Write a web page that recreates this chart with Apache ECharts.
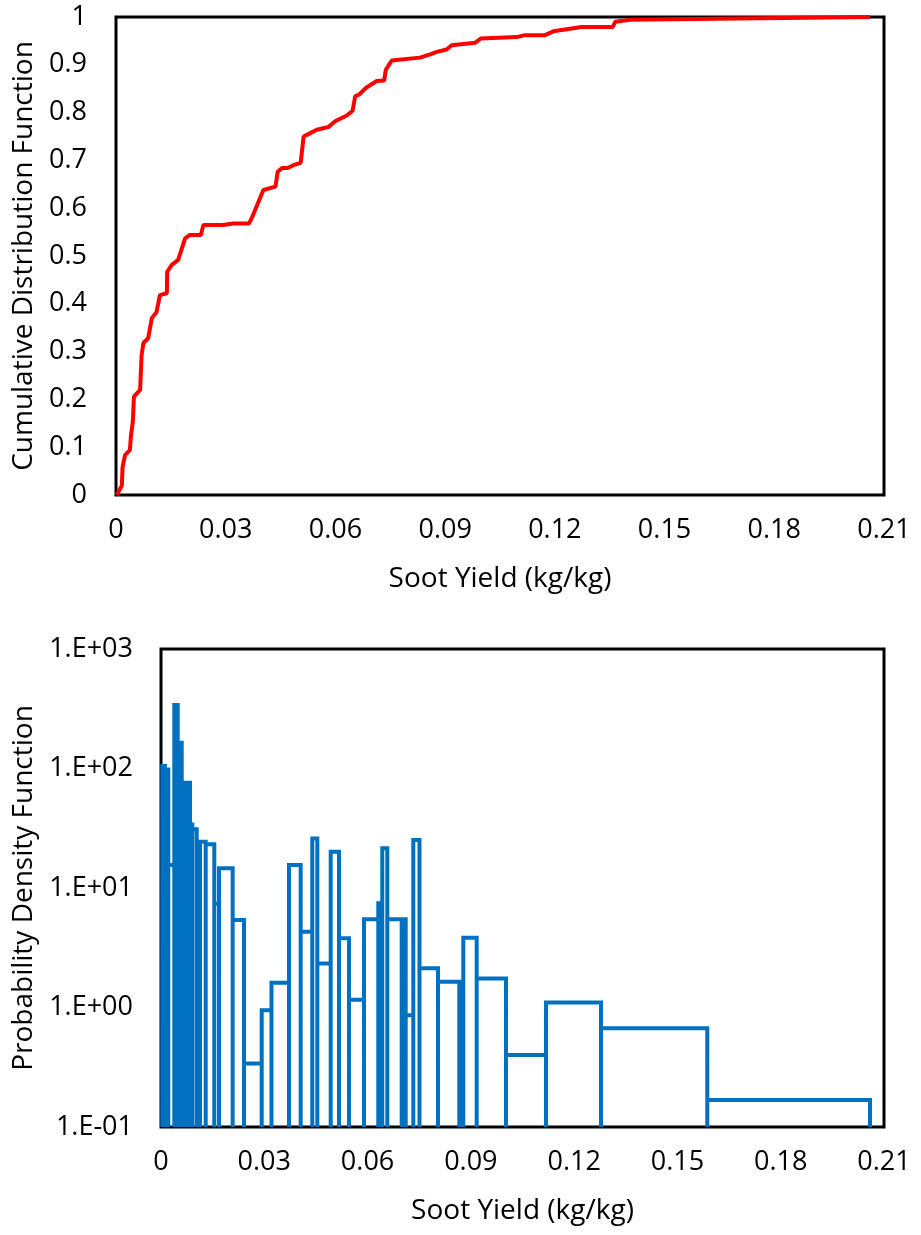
<!DOCTYPE html>
<html>
<head>
<meta charset="utf-8">
<script src="https://cdn.jsdelivr.net/npm/echarts@6/dist/echarts.min.js"></script>
<style>
html,body{margin:0;padding:0;background:#fff;}
#chart{width:921px;height:1235px;}
</style>
</head>
<body>
<div id="chart"></div>
<script>
// ---- CDF data (top panel) ----
const cdfX = [0.0002,0.0016,0.0018,0.0025,0.0038,0.0041,0.0046,0.0049,0.0066,0.0070,0.0075,0.0088,0.0098,0.0111,0.0120,0.0139,0.0140,0.0152,0.0170,0.0189,0.0202,0.0232,0.0239,0.0293,0.0320,0.0364,0.0371,0.0403,0.0436,0.0442,0.0454,0.0470,0.0485,0.0505,0.0513,0.0526,0.0549,0.0581,0.0599,0.0631,0.0647,0.0654,0.0665,0.0684,0.0713,0.0733,0.0738,0.0754,0.0831,0.0859,0.0877,0.0904,0.0918,0.0982,0.0997,0.1096,0.1118,0.1173,0.1196,0.1273,0.1358,0.1365,0.1405,0.2062];
const cdfY = [0,0.02,0.059,0.084,0.094,0.125,0.153,0.206,0.22,0.293,0.318,0.328,0.37,0.383,0.418,0.422,0.467,0.481,0.492,0.537,0.544,0.544,0.565,0.565,0.568,0.568,0.579,0.638,0.645,0.676,0.684,0.684,0.690,0.695,0.750,0.755,0.764,0.770,0.782,0.794,0.804,0.834,0.838,0.852,0.866,0.867,0.890,0.909,0.915,0.922,0.927,0.932,0.941,0.946,0.955,0.958,0.962,0.962,0.970,0.979,0.979,0.990,0.994,1.0];

// ---- PDF data (bottom panel) ----
const binEdges = [0.00038,0.00116,0.00212,0.00386,0.00485,0.00601,0.00677,0.00760,0.00842,0.00909,0.01037,0.01133,0.01298,0.01548,0.01685,0.02082,0.02411,0.02925,0.03209,0.03718,0.04057,0.04394,0.04540,0.04929,0.05170,0.05460,0.05896,0.06311,0.06427,0.06573,0.06991,0.07107,0.07328,0.07508,0.08045,0.08664,0.08780,0.09169,0.10020,0.11182,0.12780,0.15867,0.20593];
const pdfValues = [105,98,15.6,340,164,67,76,76,34,31,22,24.4,23.2,7.4,14.6,5.4,0.34,0.95,1.61,15.6,4.3,26,2.34,20.1,3.8,1.16,5.47,7.45,21.5,5.47,5.47,0.86,25.2,2.13,1.64,0.9,3.84,1.75,0.40,1.1,0.67,0.168];

// ---- tick labels ----
const xTickLabels = ['0','0.03','0.06','0.09','0.12','0.15','0.18','0.21'];
const cdfTickLabels = ['0','0.1','0.2','0.3','0.4','0.5','0.6','0.7','0.8','0.9','1'];
const pdfTickLabels = ['1.E-01','1.E+00','1.E+01','1.E+02','1.E+03'];

const xTitle = 'Soot Yield (kg/kg)';
const cdfTitle = 'Cumulative Distribution Function';
const pdfTitle = 'Probability Density Function';

const FONT = '"Open Sans", Lato, sans-serif';
const FS = 27;

const cdfData = cdfX.map((x, i) => [x, cdfY[i]]);
const PDF_BASE = 0.1;
const pdfData = [];
for (let i = 0; i < pdfValues.length; i++) {
  pdfData.push([binEdges[i], PDF_BASE]);
  pdfData.push([binEdges[i], pdfValues[i]]);
  pdfData.push([binEdges[i + 1], pdfValues[i]]);
  pdfData.push([binEdges[i + 1], PDF_BASE]);
}

const chart = echarts.init(document.getElementById('chart'), null, {renderer: 'canvas'});
const labelStyle = {color: '#000', fontFamily: FONT, fontSize: FS};
const nameStyle = {color: '#000', fontFamily: FONT, fontSize: 28};

chart.setOption({
  animation: false,
  backgroundColor: '#fff',
  grid: [
    {left: 116, top: 17, right: 37, height: 478, show: true, borderColor: '#000', borderWidth: 3, backgroundColor: 'transparent'},
    {left: 161, top: 649, right: 37, height: 478, show: true, borderColor: '#000', borderWidth: 3, backgroundColor: 'transparent'}
  ],
  xAxis: [
    {type: 'value', gridIndex: 0, min: 0, max: 0.21, interval: 0.03,
     axisLine: {show: false}, axisTick: {show: false}, splitLine: {show: false},
     axisLabel: Object.assign({margin: 22, formatter: v => xTickLabels[Math.round(v / 0.03)]}, labelStyle),
     name: xTitle, nameLocation: 'middle', nameGap: 70, nameTextStyle: nameStyle},
    {type: 'value', gridIndex: 1, min: 0, max: 0.21, interval: 0.03,
     axisLine: {show: false}, axisTick: {show: false}, splitLine: {show: false},
     axisLabel: Object.assign({margin: 22, formatter: v => xTickLabels[Math.round(v / 0.03)]}, labelStyle),
     name: xTitle, nameLocation: 'middle', nameGap: 70, nameTextStyle: nameStyle}
  ],
  yAxis: [
    {type: 'value', gridIndex: 0, min: 0, max: 1, interval: 0.1,
     axisLine: {show: false}, axisTick: {show: false}, splitLine: {show: false},
     axisLabel: Object.assign({margin: 29, formatter: v => cdfTickLabels[Math.round(v * 10)]}, labelStyle),
     name: cdfTitle, nameLocation: 'middle', nameGap: 70, nameRotate: 90, nameTextStyle: nameStyle},
    {type: 'log', gridIndex: 1, min: 0.1, max: 1000, logBase: 10,
     axisLine: {show: false}, axisTick: {show: false}, splitLine: {show: false}, minorTick: {show: false},
     axisLabel: Object.assign({margin: 28, formatter: v => pdfTickLabels[Math.round(Math.log10(v)) + 1]}, labelStyle),
     name: pdfTitle, nameLocation: 'middle', nameGap: 115, nameRotate: 90, nameTextStyle: nameStyle}
  ],
  series: [
    {type: 'line', xAxisIndex: 0, yAxisIndex: 0, data: cdfData, showSymbol: false, symbol: 'none',
     lineStyle: {color: '#FF0000', width: 4}, z: 1},
    {type: 'line', xAxisIndex: 1, yAxisIndex: 1, data: pdfData, showSymbol: false, symbol: 'none',
     lineStyle: {color: '#0070C0', width: 4, join: 'miter'}, z: 1}
  ]
});
</script>
</body>
</html>
